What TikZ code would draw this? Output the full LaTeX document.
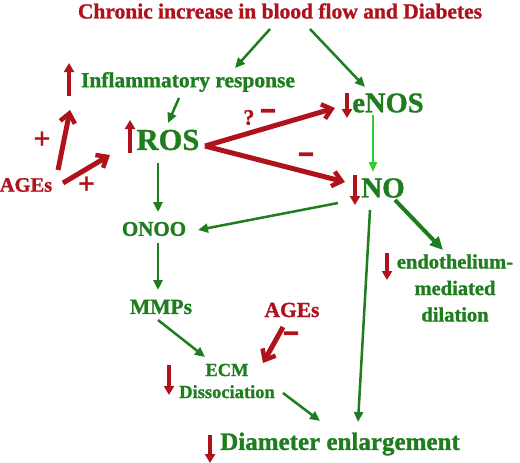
\documentclass[tikz,border=0pt]{standalone}
\usepackage{fontspec}
\setmainfont{Liberation Serif}[BoldFeatures={FakeBold=1.2}]
\newfontfamily\signfont{Liberation Serif}[FakeBold=10]
\usetikzlibrary{arrows.meta}
\definecolor{dred}{HTML}{B0121C}
\definecolor{dgreen}{HTML}{1E7D1E}
\definecolor{lgreen}{HTML}{33CC33}
\tikzset{
  lbl/.style={inner sep=0pt, font=\bfseries, text=dgreen, align=center},
  rlbl/.style={lbl, text=dred},
  garrow/.style={draw=dgreen, line width=2.5pt, -{Triangle[length=10pt,width=9pt]}},
  rarrow/.style={draw=dred, line width=5pt, -{Straight Barb[length=9pt,width=15pt,line width=4.5pt]}},
  updown/.style={draw=dred, line width=3.5pt, -{Triangle[length=9pt,width=10pt]}},
  sign/.style={inner sep=0pt, font=\bfseries\fontsize{30}{30}\selectfont, text=dred},
  minus/.style={sign, font=\signfont\fontsize{25}{25}\selectfont}
}
\begin{document}
\begin{tikzpicture}[x=1pt,y=-1pt]
	\useasboundingbox (0,0) rectangle (520,463);
	% labels
	\node[rlbl, font=\bfseries\fontsize{21.5}{21.5}\selectfont] (title) at (280,11) {Chronic increase in blood flow and Diabetes};
	\node[lbl, font=\bfseries\fontsize{21.5}{21.5}\selectfont] (infl) at (188,82) {Inflammatory response};
	\node[lbl, font=\bfseries\fontsize{28.5}{28.5}\selectfont] (enos) at (388,103) {eNOS};
	\node[lbl, font=\bfseries\fontsize{30.5}{30.5}\selectfont] (ros) at (168,140) {ROS};
	\node[rlbl, font=\bfseries\fontsize{20.5}{20.5}\selectfont] (ages) at (26,185) {AGEs};
	\node[lbl, font=\bfseries\fontsize{29}{29}\selectfont] (no) at (383,188) {NO};
	\node[lbl, font=\bfseries\fontsize{21}{21}\selectfont] (onoo) at (154,229) {ONOO};
	\node[lbl, font=\bfseries\fontsize{21.5}{21.5}\selectfont] (mmps) at (161,307) {MMPs};
	\node[lbl, font=\bfseries\fontsize{20.5}{26.5}\selectfont] (endo) at (455,288) {endothelium-\\mediated\\dilation};
	\node[rlbl, font=\bfseries\fontsize{21.5}{21.5}\selectfont] (agesb) at (292,310) {AGEs};
	\node[lbl, font=\bfseries\fontsize{18.5}{22}\selectfont] (ecm) at (227,381) {ECM\\Dissociation};
	\node[lbl, font=\bfseries\fontsize{25}{25}\selectfont] (diam) at (340,444) {Diameter enlargement};
	% up and down marks
	\draw[updown] ([shift={(-119,14)}]infl.center) -- ([shift={(-119,-19)}]infl.center);
	\draw[updown] ([shift={(-41,-10)}]enos.center) -- ([shift={(-41,15)}]enos.center);
	\draw[updown] ([shift={(-38,13)}]ros.center) -- ([shift={(-38,-20)}]ros.center);
	\draw[updown] ([shift={(-28,-13)}]no.center) -- ([shift={(-28,17)}]no.center);
	\draw[updown] ([shift={(-68,-35)}]endo.center) -- ([shift={(-68,-8)}]endo.center);
	\draw[updown] ([shift={(-58,-16)}]ecm.center) -- ([shift={(-58,14)}]ecm.center);
	\draw[updown] ([shift={(-130,-9)}]diam.center) -- ([shift={(-130,19)}]diam.center);
	% green arrows
	\draw[garrow] ([shift={(-10,18)}]title.center) -- ([shift={(47,-14)}]infl.center);
	\draw[garrow] ([shift={(30,18)}]title.center) -- ([shift={(-23,-16)}]enos.center);
	\draw[garrow] ([shift={(-9,16)}]infl.center) -- ([shift={(0,-17)}]ros.center);
	\draw[garrow, draw=lgreen, line width=2pt, -{Triangle[length=10pt,width=8pt]}] ([shift={(-15,12)}]enos.center) -- ([shift={(-10,-16)}]no.center);
	\draw[garrow] ([shift={(-45,15)}]no.center) -- ([shift={(44,1)}]onoo.center);
	\draw[garrow] ([shift={(-10,23)}]ros.center) -- ([shift={(4,-17)}]onoo.center);
	\draw[garrow] ([shift={(4,14)}]onoo.center) -- ([shift={(-3,-17)}]mmps.center);
	\draw[garrow, line width=4pt, -{Triangle[length=13pt,width=12pt]}] ([shift={(12,12)}]no.center) -- ([shift={(-12,-38)}]endo.center);
	\draw[garrow] ([shift={(-13,22)}]no.center) -- ([shift={(18,-22)}]diam.center);
	\draw[garrow] ([shift={(-3,13)}]mmps.center) -- ([shift={(-22,-24)}]ecm.center);
	\draw[garrow] ([shift={(56,12)}]ecm.center) -- ([shift={(-20,-23)}]diam.center);
	% red arrows
	\draw[rarrow] ([shift={(32,-15)}]ages.center) -- node[sign, midway, shift={(-22,0)}] {+} ([shift={(-118,28)}]infl.center);
	\draw[rarrow] ([shift={(37,-2)}]ages.center) -- node[sign, midway, shift={(0,16)}] {+} ([shift={(-58,15)}]ros.center);
	\draw[rarrow] ([shift={(37,6)}]ros.center) -- node[sign, midway, shift={(-21,-9.5)}, font=\bfseries\fontsize{22}{22}\selectfont] {?} node[minus, midway, shift={(-2,-12.5)}] {−} ([shift={(-53,5)}]enos.center);
	\draw[rarrow] ([shift={(37,6)}]ros.center) -- node[minus, midway, shift={(31,-6)}] {−} ([shift={(-38,-6)}]no.center);
	\draw[rarrow] ([shift={(-9,17)}]agesb.center) -- node[minus, midway, shift={(18,-8)}] {−} ([shift={(36,-18)}]ecm.center);
\end{tikzpicture}
\end{document}
